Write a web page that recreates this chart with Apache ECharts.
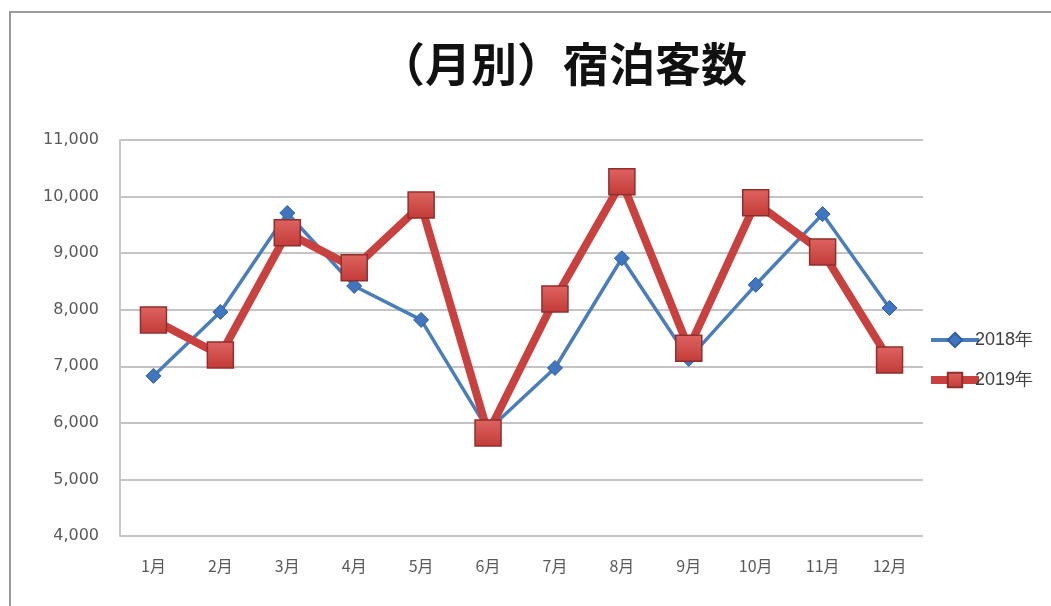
<!DOCTYPE html>
<html>
<head>
<meta charset="utf-8">
<script src="https://cdn.jsdelivr.net/npm/echarts@6/dist/echarts.min.js"></script>
<style>
  html, body { margin: 0; padding: 0; background: #ffffff; }
  #chart { width: 1051px; height: 606px; }
</style>
</head>
<body>
<div id="chart"></div>
<script>
// Monthly guest-night counts, two years
const titleText = '（月別）宿泊客数';
const months = ['1月', '2月', '3月', '4月', '5月', '6月', '7月', '8月', '9月', '10月', '11月', '12月'];
const seriesNames = ['2018年', '2019年'];
const values2018 = [6830, 7960, 9710, 8420, 7820, 5870, 6970, 8910, 7130, 8440, 9690, 8030];
const values2019 = [7820, 7200, 9360, 8740, 9850, 5820, 8190, 10260, 7320, 9890, 9020, 7110];
const yMin = 4000, yMax = 11000, yStep = 1000;

const chart = echarts.init(document.getElementById('chart'), null, { renderer: 'canvas' });

chart.setOption({
  backgroundColor: '#ffffff',
  animation: false,
  graphic: [
    {
      // outer frame
      type: 'rect',
      shape: { x: 10, y: 12, width: 1200, height: 800 },
      style: { fill: 'none', stroke: '#9a9a9a', lineWidth: 2 },
      silent: true, z: -1
    },
    {
      // chart title
      type: 'text',
      x: 563,
      y: 64,
      style: {
        text: titleText,
        fill: '#111111',
        font: 'bold 46px "Noto Sans CJK JP", sans-serif',
        textAlign: 'center',
        textVerticalAlign: 'middle'
      },
      silent: true
    }
  ],
  legend: {
    data: [
      { name: seriesNames[0], lineStyle: { width: 4 } },
      { name: seriesNames[1], lineStyle: { width: 8 } }
    ],
    orient: 'vertical',
    left: 922,
    top: 326,
    itemWidth: 48,
    itemHeight: 18,
    itemGap: 22,
    textStyle: {
      fontFamily: '"Liberation Sans", sans-serif',
      fontSize: 18,
      color: '#404040',
      padding: [0, 0, 0, -9]
    }
  },
  grid: { left: 120, right: 128, top: 140, bottom: 70, containLabel: false },
  xAxis: {
    type: 'category',
    data: months,
    boundaryGap: true,
    axisLine: { show: false },
    axisTick: { show: false },
    axisLabel: {
      margin: 22,
      fontFamily: '"Noto Sans CJK JP", sans-serif',
      fontSize: 16,
      color: '#595959'
    }
  },
  yAxis: {
    type: 'value',
    min: yMin,
    max: yMax,
    interval: yStep,
    axisLine: { show: true, lineStyle: { color: '#c8c8c8', width: 2 } },
    axisTick: { show: false },
    axisLabel: {
      margin: 21,
      fontFamily: '"DejaVu Sans", sans-serif',
      fontSize: 16,
      color: '#595959',
      formatter: v => v.toLocaleString('en-US')
    },
    splitLine: { show: true, lineStyle: { color: '#c4c4c4', width: 2 } }
  },
  series: [
    {
      name: seriesNames[0],
      type: 'line',
      data: values2018,
      symbol: 'diamond',
      symbolSize: 15,
      lineStyle: { color: '#4a7ebb', width: 3.5 },
      itemStyle: { color: '#3f76bf', borderColor: '#2f5f9e', borderWidth: 1 },
      z: 2
    },
    {
      name: seriesNames[1],
      type: 'line',
      data: values2019,
      symbol: 'rect',
      symbolSize: 26,
      lineStyle: { color: '#c9413e', width: 8 },
      itemStyle: {
        color: new echarts.graphic.LinearGradient(0, 0, 0, 1, [
          { offset: 0, color: '#de6461' },
          { offset: 1, color: '#c23a37' }
        ]),
        borderColor: '#8e2f2d',
        borderWidth: 1.5
      },
      z: 3
    }
  ]
});
</script>
</body>
</html>
